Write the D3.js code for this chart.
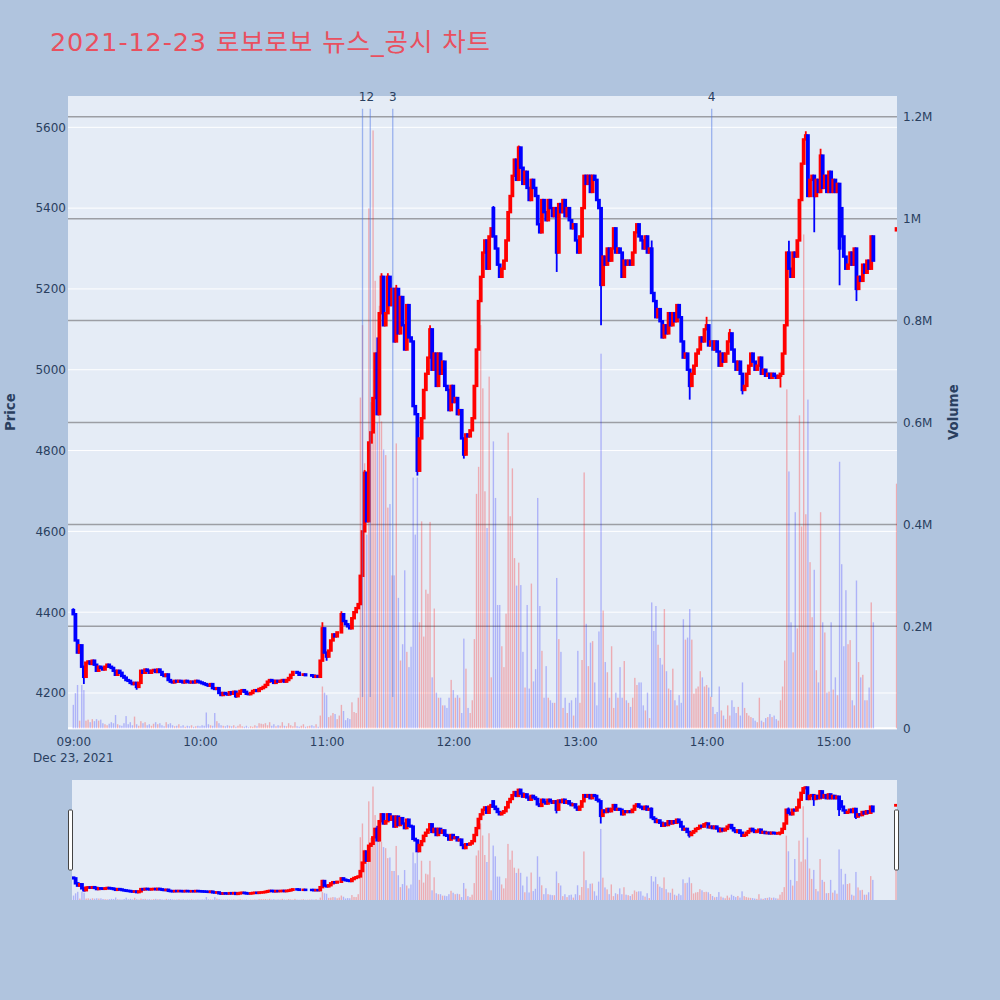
<!DOCTYPE html>
<html lang="ko">
<head>
<meta charset="utf-8" />
<title>2021-12-23 로보로보 뉴스_공시 차트</title>
<script src="https://d3js.org/d3.v7.min.js"></script>
<style>
  body { margin: 0; background: #b0c4de; }
  svg text { font-family: "DejaVu Sans", "Noto Sans CJK KR", sans-serif; }
</style>
</head>
<body>
<svg id="chart" width="1000" height="1000" xmlns="http://www.w3.org/2000/svg"></svg>
<script>
// one candle per minute from 09:00 to 15:19, last entry = 15:30 closing auction
const opens = [
  4405,4395,4330,4300,4318,4265,4240,4275,4278,4272, 4280,4270,4255,4265,4262,4258,4265,4270,4265,4262,
  4255,4245,4255,4250,4242,4238,4232,4230,4225,4222, 4225,4215,4225,4255,4250,4258,4255,4250,4255,4257,
  4252,4258,4252,4245,4242,4246,4232,4228,4226,4230, 4228,4230,4228,4226,4230,4228,4226,4228,4226,4230,
  4228,4226,4224,4222,4220,4218,4222,4212,4210,4212, 4200,4195,4200,4198,4196,4202,4198,4203,4192,4198,
  4205,4207,4203,4198,4197,4200,4205,4207,4205,4210, 4212,4215,4220,4228,4232,4230,4225,4230,4228,4230,
  4232,4228,4232,4237,4245,4252,4252,4250,4245,4245, 4246,4244,4244,4244,4243,4240,4242,4240,4280,4360,
  4300,4290,4305,4330,4345,4340,4350,4350,4395,4378, 4370,4365,4360,4385,4400,4410,4420,4490,4600,4745,
  4625,4820,4845,4930,5040,4890,5140,5230,5110,5140, 5230,5160,5200,5070,5200,5090,5180,5110,5050,5160,
  5080,5070,4910,4890,4750,4830,4880,4950,4990,5030, 5100,5000,5040,4960,5040,4990,5020,4960,4950,4900,
  4960,4920,4930,4890,4900,4830,4790,4840,4835,4850, 4880,4960,5050,5170,5230,5290,5320,5250,5330,5400,
  5330,5300,5260,5230,5250,5270,5320,5390,5430,5480, 5520,5470,5550,5500,5460,5490,5450,5420,5470,5450,
  5430,5360,5340,5420,5390,5370,5420,5400,5380,5400, 5290,5410,5390,5420,5380,5400,5370,5350,5360,5320,
  5290,5330,5400,5480,5460,5480,5440,5480,5470,5420, 5400,5210,5280,5260,5300,5270,5300,5350,5290,5300,
  5290,5230,5270,5260,5270,5260,5290,5340,5360,5330, 5320,5300,5330,5290,5300,5190,5170,5130,5150,5120,
  5080,5110,5090,5140,5110,5140,5120,5160,5130,5070, 5030,5040,5000,4960,4990,5010,5040,5050,5080,5070,
  5100,5110,5060,5070,5050,5070,5045,5010,5040,5020, 5040,5070,5090,5050,5020,5000,5020,4990,4950,4960,
  4990,5010,5040,5020,5000,5010,5030,4990,5000,4985, 4990,4980,4990,4985,4980,4985,4990,5040,5110,5290,
  5250,5230,5290,5280,5320,5420,5510,5570,5580,5430, 5470,5480,5430,5470,5440,5530,5450,5480,5440,5490,
  5440,5470,5440,5460,5400,5330,5280,5250,5260,5290, 5260,5300,5200,5230,5220,5260,5240,5270,5250,5330,
  5345
];
const closes = [
  4395,4330,4300,4318,4265,4240,4275,4278,4272,4280, 4270,4255,4265,4262,4258,4265,4270,4265,4262,4255,
  4245,4255,4250,4242,4238,4232,4230,4225,4222,4225, 4215,4225,4255,4250,4258,4255,4250,4255,4257,4252,
  4258,4252,4245,4242,4246,4232,4228,4226,4230,4228, 4230,4228,4226,4230,4228,4226,4228,4226,4230,4228,
  4226,4224,4222,4220,4218,4222,4212,4210,4212,4200, 4195,4200,4198,4196,4202,4198,4203,4192,4198,4205,
  4207,4203,4198,4197,4200,4205,4207,4205,4210,4212, 4215,4220,4228,4232,4230,4225,4230,4228,4230,4232,
  4228,4232,4237,4245,4252,4252,4250,4245,4245,4246, 4244,4244,4244,4243,4240,4242,4240,4280,4360,4300,
  4290,4305,4330,4345,4340,4350,4350,4395,4378,4370, 4365,4360,4385,4400,4410,4420,4490,4600,4745,4625,
  4820,4845,4930,5040,4890,5140,5230,5110,5140,5230, 5160,5200,5070,5200,5090,5180,5110,5050,5160,5080,
  5070,4910,4890,4750,4830,4880,4950,4990,5030,5100, 5000,5040,4960,5040,4990,5020,4960,4950,4900,4960,
  4920,4930,4890,4900,4830,4790,4840,4835,4850,4880, 4960,5050,5170,5230,5290,5320,5250,5330,5350,5330,
  5300,5260,5230,5250,5270,5320,5390,5430,5480,5520, 5470,5550,5500,5460,5490,5450,5420,5470,5450,5430,
  5360,5340,5420,5390,5370,5420,5400,5380,5400,5290, 5410,5390,5420,5380,5400,5370,5350,5360,5320,5290,
  5330,5400,5480,5460,5480,5440,5480,5470,5420,5400, 5210,5280,5260,5300,5270,5300,5350,5290,5300,5290,
  5230,5270,5260,5270,5260,5290,5340,5360,5330,5320, 5300,5330,5290,5300,5190,5170,5130,5150,5120,5080,
  5110,5090,5140,5110,5140,5120,5160,5130,5070,5030, 5040,5000,4960,4990,5010,5040,5050,5080,5070,5100,
  5110,5060,5070,5050,5070,5045,5010,5040,5020,5040, 5070,5090,5050,5020,5000,5020,4990,4950,4960,4990,
  5010,5040,5020,5000,5010,5030,4990,5000,4985,4990, 4980,4990,4985,4980,4985,4990,5040,5110,5290,5250,
  5230,5290,5280,5320,5420,5510,5570,5580,5430,5470, 5480,5430,5470,5440,5530,5450,5480,5440,5490,5440,
  5470,5440,5460,5300,5330,5280,5250,5260,5290,5260, 5300,5200,5230,5220,5260,5240,5270,5250,5330,5270,
  5350
];
// volume in thousand shares
const volumes = [
  46,69,85,15,85,75,15,17,12,18, 14,18,15,17,10,8,6,9,12,10,
  26,8,6,5,10,24,8,12,6,23, 8,5,14,10,12,6,8,5,9,12,
  8,10,6,4,12,8,10,6,4,5, 8,4,6,3,5,4,6,3,4,5,
  4,6,5,31,8,6,5,30,14,10, 6,5,4,6,5,4,6,3,5,8,
  4,3,5,2,4,3,6,4,10,9, 8,10,6,12,5,8,4,6,5,12,
  5,4,10,6,4,12,4,3,5,8, 3,4,5,6,4,8,3,25,82,70,
  65,22,25,30,28,18,25,46,34,16, 20,18,51,32,30,60,649,791,520,380,
  1020,640,1173,878,600,829,602,547,536,433, 440,300,300,559,256,133,165,310,150,120,
  160,492,380,492,208,406,180,272,264,405, 100,235,70,60,60,45,45,40,60,95,
  75,60,65,60,30,176,117,40,30,55, 175,460,513,791,667,465,393,690,100,563,
  452,242,242,161,120,225,580,416,510,334, 280,325,281,150,80,242,78,284,92,116,
  452,240,152,60,122,60,55,50,50,295, 175,150,40,60,30,50,55,25,60,152,
  50,134,502,205,122,168,171,90,45,190, 735,231,130,110,60,161,40,70,60,120,
  60,132,55,50,42,60,99,85,90,90, 45,35,70,20,247,191,240,164,138,125,
  234,112,78,75,117,55,45,65,50,214, 174,178,234,174,68,78,82,112,100,82,
  85,80,62,42,28,32,82,35,25,18, 45,25,55,42,30,42,25,90,40,30,
  25,22,20,15,12,60,15,12,20,22, 28,22,25,18,15,55,82,133,665,504,
  208,149,424,196,614,396,969,420,645,326, 218,311,114,90,424,208,188,70,72,208,
  76,100,65,523,322,161,271,165,173,55, 45,290,130,100,105,55,55,80,247,208,
  480
];
// [candle index, price] for visible shadows beyond the body
const wickHighs = [[0,4410],[118,4375],[127,4402],[138,4752],[144,5080],[146,5239],[149,5239],[153,5210],
  [169,5110],[199,5405],[211,5555],[274,5320],[300,5131],[311,5101],[339,5319],[347,5590],[354,5547]];
const wickLows = [[5,4222],[30,4208],[77,4188],[120,4280],[163,4738],[185,4780],[229,5242],[250,5110],
  [292,4926],[317,4939],[335,4956],[351,5340],[363,5209],[371,5170]];

const newsTimes = ["11:17:00", "11:20:40", "11:31:20", "14:02:25"];
const newsLabels = ["1", "2", "3", "4"];
const newsSpan = [4190, 5646];

const priceTicks = [4200, 4400, 4600, 4800, 5000, 5200, 5400, 5600];
const volumeTicks = [0, 200, 400, 600, 800, 1000, 1200];
const hourTicks = ["09:00", "10:00", "11:00", "12:00", "13:00", "14:00", "15:00"];

const day = "2021-12-23";
const parseTime = d3.timeParse("%Y-%m-%d %H:%M:%S");
const at = s => parseTime(day + " " + s);
const sessionStart = at("09:00:00");
const closingAuction = at("15:30:00");
const times = closes.map((_, i) => i < closes.length - 1 ? d3.timeMinute.offset(sessionStart, i) : closingAuction);

const hiMap = new Map(wickHighs), loMap = new Map(wickLows);
const candles = closes.map((c, i) => {
  const o = opens[i];
  return {
    t: times[i], o: o, c: c, v: volumes[i], up: c >= o,
    h: Math.max(o, c, hiMap.has(i) ? hiMap.get(i) : -Infinity),
    l: Math.min(o, c, loMap.has(i) ? loMap.get(i) : Infinity)
  };
});

const svg = d3.select("#chart");
const textColor = "#2a3f5f";
const plot = {left: 68, right: 897, top: 96, bottom: 728.3};
const slider = {left: 72, right: 897, top: 780, bottom: 900};

const x = d3.scaleTime().domain([at("08:57:29"), at("15:30:12")]).range([plot.left, plot.right]);
const yPrice = d3.scaleLinear().domain([4112.6, 5677.5]).range([plot.bottom, plot.top]);
const yVol = d3.scaleLinear().domain([0, 1240.6]).range([plot.bottom, plot.top]);

const xs = d3.scaleTime().domain([at("08:59:17"), at("15:30:28")]).range([slider.left, slider.right]);
const ysPrice = yPrice.copy().range([slider.bottom, slider.top]);
const ysVol = yVol.copy().range([slider.bottom, slider.top]);

const defs = svg.append("defs");
defs.append("clipPath").attr("id", "clipMain").append("rect")
  .attr("x", plot.left).attr("y", plot.top)
  .attr("width", plot.right - plot.left).attr("height", plot.bottom - plot.top + 1);
defs.append("clipPath").attr("id", "clipSlider").append("rect")
  .attr("x", slider.left).attr("y", slider.top)
  .attr("width", slider.right - slider.left).attr("height", slider.bottom - slider.top);

// title
svg.append("text")
  .attr("x", 50).attr("y", 50.5)
  .attr("font-size", 25.5).attr("fill", "#e9505f")
  .attr("textLength", 440).attr("lengthAdjust", "spacing")
  .text("2021-12-23 로보로보 뉴스_공시 차트");

// main plot background and grids
svg.append("rect")
  .attr("x", plot.left).attr("y", plot.top)
  .attr("width", plot.right - plot.left).attr("height", plot.bottom - plot.top + 1)
  .attr("fill", "#e5ecf6");

svg.append("g").selectAll("line").data(priceTicks).join("line")
  .attr("x1", plot.left).attr("x2", plot.right)
  .attr("y1", d => yPrice(d)).attr("y2", d => yPrice(d))
  .attr("stroke", "#fff").attr("stroke-width", 1);

svg.append("g").selectAll("line").data(volumeTicks.filter(d => d > 0)).join("line")
  .attr("x1", plot.left).attr("x2", plot.right)
  .attr("y1", d => yVol(d)).attr("y2", d => yVol(d))
  .attr("stroke", "#9c9ea4").attr("stroke-width", 1.5);

svg.append("line")
  .attr("x1", plot.left).attr("x2", plot.right)
  .attr("y1", yVol(0)).attr("y2", yVol(0))
  .attr("stroke", "#fff").attr("stroke-width", 2);

function drawTraces(g, xScale, yP, yV) {
  g.selectAll("rect.vol").data(candles).join("rect")
    .attr("class", "vol")
    .attr("x", d => xScale(d.t) - 0.7).attr("width", 1.4)
    .attr("y", d => yV(d.v)).attr("height", d => yV(0) - yV(d.v))
    .attr("fill", d => d.up ? "rgba(255,0,0,0.27)" : "rgba(0,0,255,0.24)");

  g.selectAll("line.wick").data(candles).join("line")
    .attr("class", "wick")
    .attr("x1", d => xScale(d.t)).attr("x2", d => xScale(d.t))
    .attr("y1", d => yP(d.h)).attr("y2", d => yP(d.l))
    .attr("stroke", d => d.up ? "#ff0000" : "#0000ff")
    .attr("stroke-width", 1.8);

  g.selectAll("rect.body").data(candles).join("rect")
    .attr("class", "body")
    .attr("x", d => xScale(d.t) - 0.7).attr("width", 1.4)
    .attr("y", d => yP(Math.max(d.o, d.c)))
    .attr("height", d => Math.abs(yP(d.o) - yP(d.c)))
    .attr("fill", d => d.up ? "#ff0000" : "#0000ff")
    .attr("stroke", d => d.up ? "#ff0000" : "#0000ff")
    .attr("stroke-width", 2.4);
}

drawTraces(svg.append("g").attr("clip-path", "url(#clipMain)"), x, yPrice, yVol);

// news / disclosure markers
const news = newsTimes.map((t, i) => ({t: at(t), label: newsLabels[i]}));
const newsG = svg.append("g");
newsG.selectAll("line").data(news).join("line")
  .attr("x1", d => x(d.t)).attr("x2", d => x(d.t))
  .attr("y1", yPrice(newsSpan[1])).attr("y2", yPrice(newsSpan[0]))
  .attr("stroke", "rgba(80,120,230,0.5)").attr("stroke-width", 1.3);
newsG.selectAll("text").data(news).join("text")
  .attr("x", d => x(d.t)).attr("y", 101)
  .attr("text-anchor", "middle").attr("font-size", 12).attr("fill", textColor)
  .text(d => d.label);

// axes
const leftAxis = svg.append("g")
  .attr("transform", `translate(${plot.left},0)`)
  .call(d3.axisLeft(yPrice).tickValues(priceTicks).tickSize(0).tickPadding(2)
    .tickFormat(d3.format("d")));
const rightAxis = svg.append("g")
  .attr("transform", `translate(${plot.right},0)`)
  .call(d3.axisRight(yVol).tickValues(volumeTicks).tickSize(0).tickPadding(6)
    .tickFormat(d => d === 0 ? "0" : (d / 1000) + "M"));
const bottomAxis = svg.append("g")
  .attr("transform", `translate(0,${plot.bottom})`)
  .call(d3.axisBottom(x).tickValues(hourTicks.map(h => at(h + ":00"))).tickSize(0).tickPadding(9)
    .tickFormat(d3.timeFormat("%H:%M")));
[leftAxis, rightAxis, bottomAxis].forEach(a => {
  a.select(".domain").remove();
  a.attr("font-family", null);
  a.selectAll("text").attr("font-size", 12).attr("fill", textColor);
});

svg.append("text")
  .attr("x", x(sessionStart)).attr("y", 762)
  .attr("text-anchor", "middle").attr("font-size", 12).attr("fill", textColor)
  .text(d3.timeFormat("%b %d, %Y")(sessionStart));

svg.append("text")
  .attr("transform", `translate(15,${(plot.top + plot.bottom) / 2}) rotate(-90)`)
  .attr("text-anchor", "middle").attr("font-size", 13.3).attr("font-weight", "bold")
  .attr("fill", textColor).text("Price");
svg.append("text")
  .attr("transform", `translate(958,${(plot.top + plot.bottom) / 2}) rotate(-90)`)
  .attr("text-anchor", "middle").attr("font-size", 13.3).attr("font-weight", "bold")
  .attr("fill", textColor).text("Volume");

// range slider
svg.append("rect")
  .attr("x", slider.left).attr("y", slider.top)
  .attr("width", slider.right - slider.left).attr("height", slider.bottom - slider.top)
  .attr("fill", "#e5ecf6");
drawTraces(svg.append("g").attr("clip-path", "url(#clipSlider)"), xs, ysPrice, ysVol);

const grabH = (slider.bottom - slider.top) / 2;
svg.append("g").selectAll("rect").data([slider.left - 1, slider.right]).join("rect")
  .attr("x", d => d - 2.5).attr("y", slider.top + grabH / 2)
  .attr("width", 4).attr("height", grabH)
  .attr("rx", 1)
  .attr("fill", "#fff").attr("stroke", "#444").attr("stroke-width", 1);
</script>
</body>
</html>
